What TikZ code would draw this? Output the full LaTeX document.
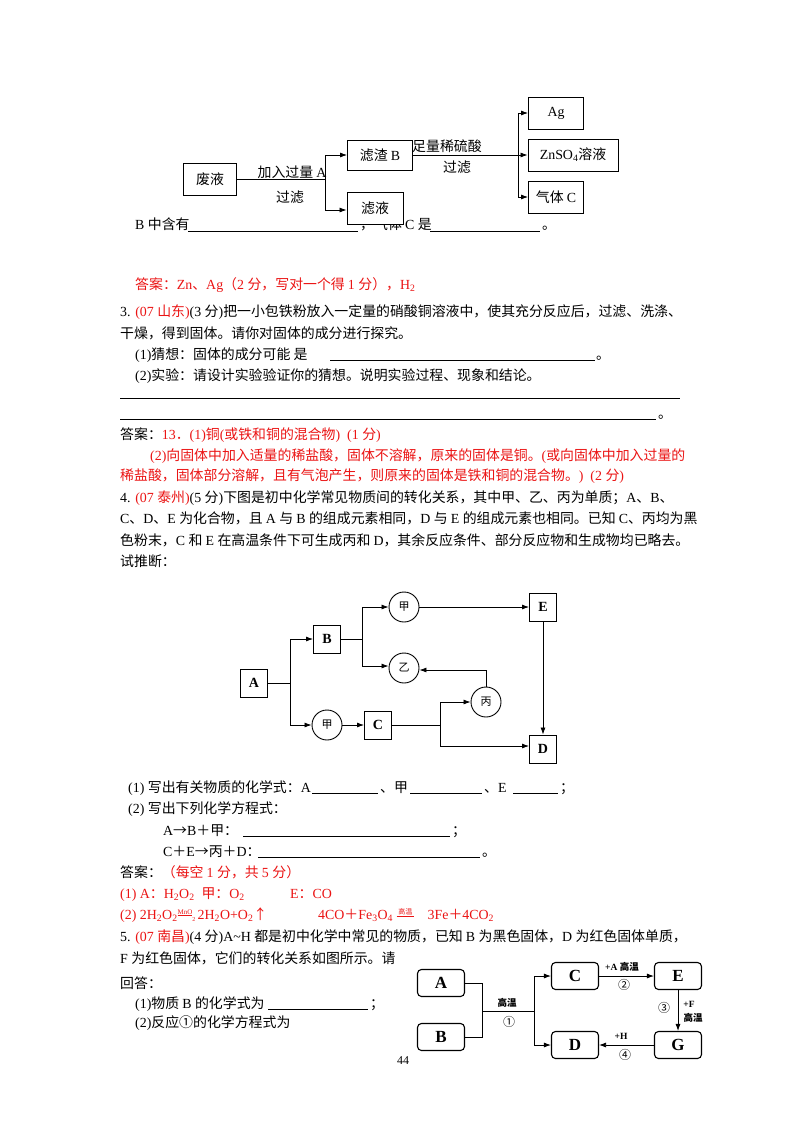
\documentclass[tikz,border=0pt]{standalone}
\usepackage{fontspec}
\setmainfont{Liberation Serif}
\newfontfamily\cjk{Noto Sans CJK SC}
\usetikzlibrary{arrows.meta}
\XeTeXinterchartokenstate=1
\newXeTeXintercharclass\cjkclass
\newcount\cc
\def\setrange#1#2{\cc=#1 \loop\ifnum\cc<#2 \XeTeXcharclass\cc=\cjkclass \advance\cc1 \repeat}
\setrange{"2190}{"2200}
\setrange{"2460}{"2500}
\setrange{"3000}{"3040}
\setrange{"4E00}{"A000}
\setrange{"FF00}{"FFF0}
\XeTeXinterchartoks 0 \cjkclass = {\cjk}
\XeTeXinterchartoks 4095 \cjkclass = {\cjk}
\XeTeXinterchartoks \cjkclass 0 = {\rmfamily}
\XeTeXinterchartoks 4095 0 = {\rmfamily}
\definecolor{ans}{RGB}{235,20,20}
\newcommand{\ts}[1]{\textsubscript{#1}}
\begin{document}
\begin{tikzpicture}[x=1pt,y=-1pt,
  t/.style={anchor=base west,inner sep=0,font=\fontsize{13.9}{16}\selectfont},
  lab/.style={inner sep=0,font=\fontsize{13.9}{16}\selectfont},
  bx/.style={draw,fill=white,line width=0.9pt,inner sep=0,font=\fontsize{13.9}{16}\selectfont},
  cb/.style={draw,line width=0.9pt,inner sep=0,minimum width=27pt,minimum height=28pt,font=\fontsize{14}{16}\selectfont\bfseries},
  cir/.style={draw,circle,line width=0.9pt,minimum size=30pt,inner sep=0,font=\fontsize{11}{13}\selectfont},
  rb/.style={draw,rounded corners=4pt,line width=1.1pt,minimum width=47pt,minimum height=27pt,inner sep=0,font=\fontsize{17}{19}\selectfont\bfseries},
  ar/.style={-{Latex[length=7pt,width=5pt]},line width=0.8pt},
  ln/.style={line width=0.8pt},
  sm/.style={inner sep=0,font=\fontsize{9.5}{11}\selectfont\bfseries},
  ul/.style={line width=0.5pt}]
\useasboundingbox (0,0) rectangle (800,1132);
\fill[white] (0,0) rectangle (800,1132);
% ---------- top diagram ----------
\node[t] at (135,229) {B 中含有};
\draw[ul] (188,231) -- (358,231);
\node[t] at (360,229) {，气体 C 是};
\draw[ul] (430,231) -- (540,231);
\node[t] at (542,229) {。};
\node[bx,minimum width=53pt,minimum height=32pt] (fy) at (210,179) {废液};
\node[lab,anchor=west] at (412,146) {足量稀硫酸};
\node[bx,minimum width=65pt,minimum height=30pt] (lz) at (380,155) {滤渣 B};
\node[bx,minimum width=56pt,minimum height=32pt] (ly) at (375,208) {滤液};
\node[bx,minimum width=55pt,minimum height=32pt] (ag) at (556,113) {Ag};
\node[bx,minimum width=90pt,minimum height=32pt] (zn) at (573,155) {ZnSO\ts{4}溶液};
\node[bx,minimum width=55pt,minimum height=32pt] (gc) at (556,197) {气体 C};
\coordinate (j1) at (325,179);
\coordinate (j2) at (518,155);
\draw[ln] (fy.east) -- (j1);
\draw[ar] (j1) |- (lz.west);
\draw[ar] (j1) |- ([yshift=-2pt]ly.west);
\draw[ar] (lz.east) -- (zn.west);
\draw[ar] (j2) |- (ag.west);
\draw[ar] (j2) |- (gc.west);
\node[lab] at (292,172) {加入过量 A};
\node[lab] at (290,197) {过滤};
\node[lab] at (457,167) {过滤};
\node[t,text=ans] at (135,289) {答案：Zn、Ag（2 分，写对一个得 1 分），H\ts{2}};
% ---------- Q3 ----------
\node[t] at (120,316) {3. \textcolor{ans}{(07 山东)}(3 分)把一小包铁粉放入一定量的硝酸铜溶液中，使其充分反应后，过滤、洗涤、};
\node[t] at (120,338) {干燥，得到固体。请你对固体的成分进行探究。};
\node[t] at (135,359) {(1)猜想：固体的成分可能 是};
\draw[ul] (330,360) -- (595,360);
\node[t] at (596,359) {。};
\node[t] at (135,380) {(2)实验：请设计实验验证你的猜想。说明实验过程、现象和结论。};
\draw[ul] (120,398) -- (680,398);
\draw[ul] (120,419) -- (656,419);
\node[t] at (658,418) {。};
\node[t] at (120,439) {答案：\textcolor{ans}{13．(1)铜(或铁和铜的混合物)\ \ (1 分)}};
\node[t,text=ans] at (150,460) {(2)向固体中加入适量的稀盐酸，固体不溶解，原来的固体是铜。(或向固体中加入过量的};
\node[t,text=ans] at (120,480) {稀盐酸，固体部分溶解，且有气泡产生，则原来的固体是铁和铜的混合物。)\ \ (2 分)};
% ---------- Q4 ----------
\node[t] at (120,502) {4. \textcolor{ans}{(07 泰州)}(5 分)下图是初中化学常见物质间的转化关系，其中甲、乙、丙为单质；A、B、};
\node[t] at (120,523) {C、D、E 为化合物，且 A 与 B 的组成元素相同，D 与 E 的组成元素也相同。已知 C、丙均为黑};
\node[t] at (120,545) {色粉末，C 和 E 在高温条件下可生成丙和 D，其余反应条件、部分反应物和生成物均已略去。};
\node[t] at (120,566) {试推断：};
% middle diagram
\node[cb] (A) at (254,683) {A};
\node[cb] (B) at (327,639) {B};
\node[cb] (E) at (543,607) {E};
\node[cb] (C) at (378,725) {C};
\node[cb] (D) at (543,749) {D};
\node[cir] (j1t) at (404,607) {甲};
\node[cir] (yi) at (404,668) {乙};
\node[cir] (bing) at (486,702) {丙};
\node[cir] (j1b) at (327,725) {甲};
\coordinate (ka) at (290,683);
\coordinate (kb) at (362,639);
\coordinate (kc) at (440,725);
\draw[ln] (A.east) -- (ka);
\draw[ar] (ka) |- (B.west);
\draw[ar] (ka) |- (j1b.west);
\draw[ln] (B.east) -- (kb);
\draw[ar] (kb) |- (j1t.west);
\draw[ar] (kb) |- ([yshift=2pt]yi.west);
\draw[ar] (j1t.east) -- (E.west);
\draw[ar] (j1b.east) -- (C.west);
\draw[ln] (C.east) -- (kc);
\draw[ar] (kc) |- (bing.west);
\draw[ar] (kc) |- ([yshift=3pt]D.west);
\draw[ar] (bing.north) |- ([yshift=-2pt]yi.east);
\draw[ar] (E.south) -- (D.north);
% questions
\node[t] at (128,792) {(1)\ 写出有关物质的化学式：A};
\draw[ul] (312,793) -- (378,793);
\node[t] at (380,792) {、甲};
\draw[ul] (410,793) -- (482,793);
\node[t] at (484,792) {、E};
\draw[ul] (513,793) -- (558,793);
\node[t] at (560,792) {；};
\node[t] at (128,813) {(2)\ 写出下列化学方程式：};
\node[t] at (163,835) {A→B＋甲：};
\draw[ul] (243,836) -- (450,836);
\node[t] at (452,835) {；};
\node[t] at (163,856) {C＋E→丙＋D：};
\draw[ul] (258,857) -- (480,857);
\node[t] at (482,856) {。};
\node[t] at (120,877) {答案：\textcolor{ans}{（每空 1 分，共 5 分）}};
\node[t,text=ans] at (120,898) {(1) A：H\ts{2}O\ts{2}\ \ 甲：O\ts{2}};
\node[t,text=ans] at (290,898) {E：CO};
\node[t,text=ans] at (120,919) {(2) 2H\ts{2}O\ts{2}\raisebox{5pt}{\fontsize{7}{8}\selectfont\underline{MnO}}\raisebox{-2pt}{\fontsize{6}{7}\selectfont 2}\,2H\ts{2}O+O\ts{2}↑};
\node[t,text=ans] at (318,919) {4CO＋Fe\ts{3}O\ts{4}\ \raisebox{5pt}{\fontsize{7}{8}\selectfont\underline{\ 高温\ }}\quad 3Fe＋4CO\ts{2}};
% ---------- Q5 ----------
\node[t] at (120,941) {5. \textcolor{ans}{(07 南昌)}(4 分)A\textasciitilde H 都是初中化学中常见的物质，已知 B 为黑色固体，D 为红色固体单质，};
\node[t] at (120,963) {F 为红色固体，它们的转化关系如图所示。请};
\node[t] at (120,988) {回答：};
\node[t] at (135,1008) {(1)物质 B 的化学式为};
\draw[line width=0.8pt] (268,1009) -- (368,1009);
\node[t] at (370,1008) {；};
\node[t] at (135,1027) {(2)反应①的化学方程式为};
\node[inner sep=0,font=\fontsize{12}{14}\selectfont] at (403,1061) {44};
% bottom diagram
\node[rb] (a5) at (441,983) {A};
\node[rb] (b5) at (441,1037) {B};
\node[rb] (c5) at (575,976) {C};
\node[rb] (d5) at (575,1045) {D};
\node[rb] (e5) at (678,976) {E};
\node[rb] (g5) at (678,1045) {G};
\coordinate (k1) at (482,1011);
\coordinate (k2) at (534,1011);
\draw[ln] (a5.east) -| (k1);
\draw[ln] (b5.east) -| (k1);
\draw[ln] (k1) -- (k2);
\draw[ar] (k2) |- (c5.west);
\draw[ar] (k2) |- (d5.west);
\draw[ar] (c5.east) -- (e5.west);
\draw[ar] (e5.south) -- (g5.north);
\draw[ar] (g5.west) -- (d5.east);
\node[sm] at (507,1003) {高温};
\node[inner sep=0,font=\fontsize{12}{14}\selectfont] at (509,1022) {①};
\node[sm] at (622,967) {+A 高温};
\node[inner sep=0,font=\fontsize{12}{14}\selectfont] at (624,985) {②};
\node[inner sep=0,font=\fontsize{12}{14}\selectfont] at (664,1008) {③};
\node[sm] at (689,1004) {+F};
\node[sm] at (693,1018) {高温};
\node[sm] at (621,1036) {+H};
\node[inner sep=0,font=\fontsize{12}{14}\selectfont] at (625,1055) {④};
\end{tikzpicture}
\end{document}
